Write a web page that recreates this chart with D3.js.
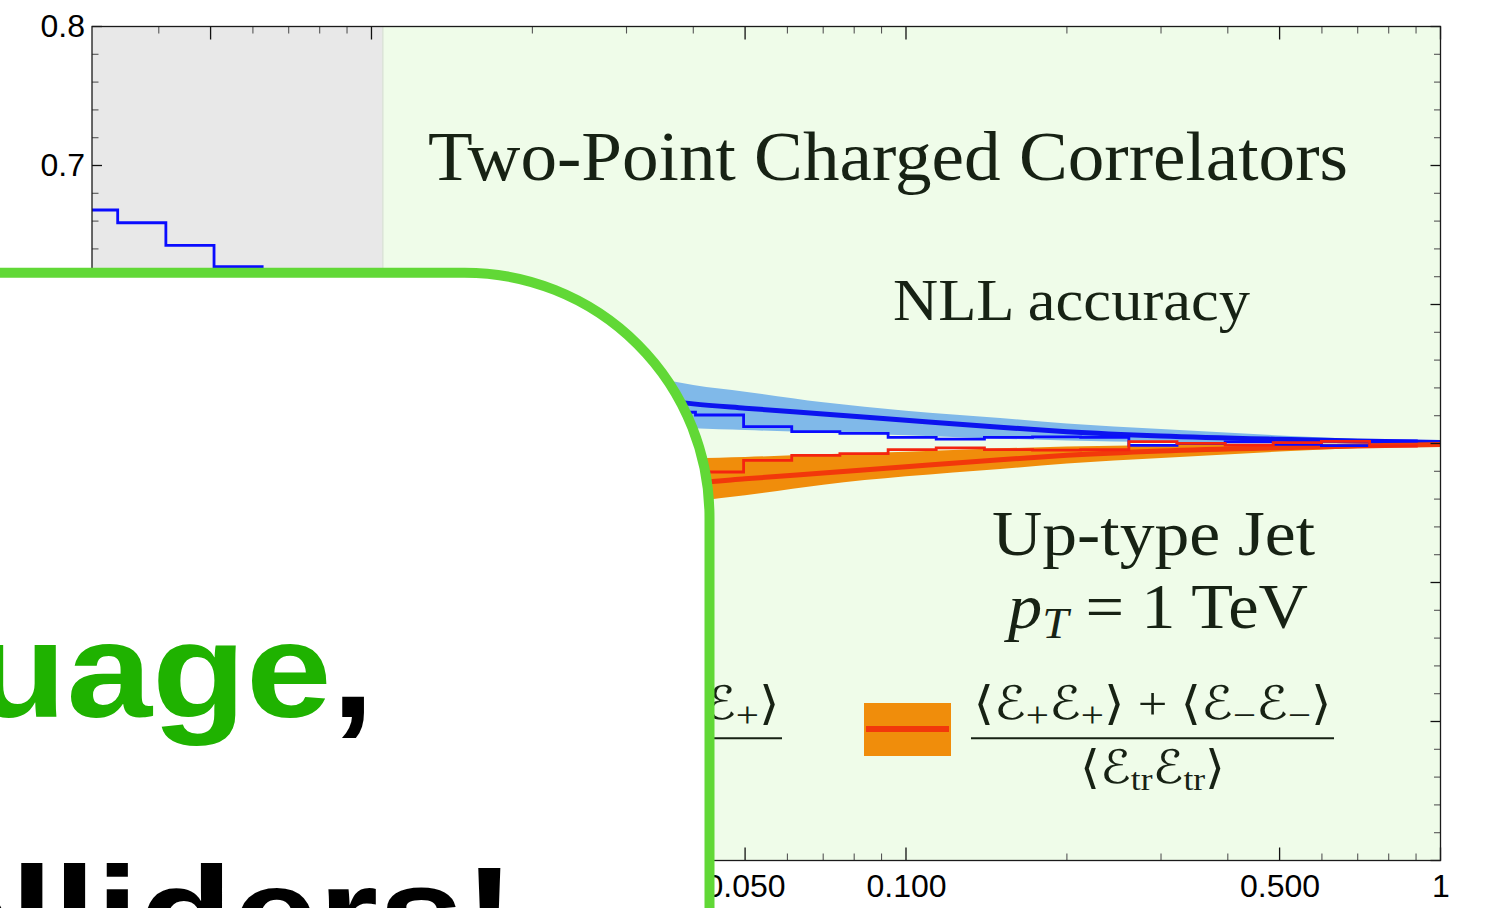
<!DOCTYPE html>
<html><head><meta charset="utf-8">
<script src="https://cdn.jsdelivr.net/npm/d3@7"></script>
<style>html,body{margin:0;padding:0;background:#fff;overflow:hidden}</style>
</head><body>
<svg id="chart" width="1486" height="908" xmlns="http://www.w3.org/2000/svg"></svg>
<script>
// ---------------- data ----------------
const xDomain = [0.003, 1];
const yDomain = [0.2, 0.8];
const nonPertEnd = 0.0105;
const xMajorTicks = [0.005, 0.01, 0.05, 0.1, 0.5, 1];
const xTickLabels = ["0.005", "0.010", "0.050", "0.100", "0.500", "1"];
const xMinorTicks = [0.004, 0.006, 0.007, 0.008, 0.009, 0.02, 0.03, 0.04, 0.06, 0.07, 0.08, 0.09, 0.2, 0.3, 0.4, 0.6, 0.7, 0.8, 0.9];
const yMajorTicks = [0.2, 0.3, 0.4, 0.5, 0.6, 0.7, 0.8];
const yTickLabels = ["0.2", "0.3", "0.4", "0.5", "0.6", "0.7", "0.8"];
const yMinorTicks = [0.22, 0.24, 0.26, 0.28, 0.32, 0.34, 0.36, 0.38, 0.42, 0.44, 0.46, 0.48, 0.52, 0.54, 0.56, 0.58, 0.62, 0.64, 0.66, 0.68, 0.72, 0.74, 0.76, 0.78];

// histogram (simulation) bin edges and values
const binEdges = [0.002723, 0.003351, 0.004124, 0.005075, 0.006244, 0.007684, 0.009454, 0.01163, 0.01432, 0.01761, 0.02167, 0.02667, 0.03281, 0.04038, 0.04968, 0.06113, 0.07522, 0.09259, 0.1139, 0.1402, 0.1725, 0.2122, 0.2612, 0.3214, 0.3954, 0.4865, 0.5987, 0.7367, 0.9066];
const blueHist = [0.668, 0.6588, 0.6426, 0.6272, 0.612, 0.598, 0.585, 0.573, 0.562, 0.552, 0.543, 0.535, 0.5225, 0.5205, 0.5121, 0.5085, 0.5073, 0.5044, 0.5032, 0.5044, 0.5048, 0.5045, 0.4987, 0.4999, 0.5011, 0.4994, 0.4985, 0.5018];
const redHist  = [0.332, 0.3412, 0.3574, 0.3728, 0.388, 0.402, 0.415, 0.427, 0.438, 0.448, 0.457, 0.465, 0.4775, 0.4795, 0.4879, 0.4915, 0.4927, 0.4956, 0.4968, 0.4956, 0.4952, 0.4955, 0.5013, 0.5001, 0.4989, 0.5006, 0.5015, 0.4982];

// NLL theory curves and bands
const thX       = [0.0105, 0.015, 0.02, 0.03, 0.04, 0.05, 0.07, 0.1, 0.15, 0.2, 0.3, 0.5, 0.7, 1];
const blueLine  = [0.565, 0.553, 0.545, 0.535, 0.5285, 0.5254, 0.5212, 0.5167, 0.5117, 0.5085, 0.5054, 0.5030, 0.5018, 0.5008];
const blueHi    = [0.595, 0.578, 0.567, 0.552, 0.542, 0.5373, 0.5296, 0.5236, 0.5183, 0.5144, 0.5104, 0.5058, 0.5032, 0.5008];
const blueLo    = [0.535, 0.526, 0.521, 0.515, 0.5109, 0.5097, 0.5078, 0.5059, 0.5035, 0.5022, 0.5010, 0.5003, 0.5001, 0.5000];
const redLine   = [0.435, 0.447, 0.455, 0.465, 0.4715, 0.4746, 0.4788, 0.4833, 0.4883, 0.4915, 0.4946, 0.4970, 0.4982, 0.4992];
const orangeLo  = [0.405, 0.422, 0.433, 0.448, 0.458, 0.4627, 0.4704, 0.4764, 0.4817, 0.4856, 0.4896, 0.4942, 0.4968, 0.4992];
const orangeHi  = [0.465, 0.474, 0.479, 0.485, 0.4891, 0.4903, 0.4922, 0.4941, 0.4965, 0.4978, 0.4990, 0.4997, 0.4999, 0.5000];

// ---------------- drawing ----------------
const svg = d3.select("#chart");
const x = d3.scaleLog().domain(xDomain).range([92, 1440.5]);
const y = d3.scaleLinear().domain(yDomain).range([860.5, 26.5]);
const X0 = x(xDomain[0]), X1 = x(xDomain[1]), Y0 = y(yDomain[0]), Y1 = y(yDomain[1]);

const defs = svg.append("defs");
defs.append("clipPath").attr("id", "plotclip").append("rect")
  .attr("x", X0).attr("y", Y1).attr("width", X1 - X0).attr("height", Y0 - Y1);

// background regions
svg.append("rect").attr("x", X0).attr("y", Y1).attr("width", x(nonPertEnd) - X0).attr("height", Y0 - Y1).attr("fill", "#e8e8e8");
svg.append("rect").attr("x", x(nonPertEnd)).attr("y", Y1).attr("width", X1 - x(nonPertEnd)).attr("height", Y0 - Y1).attr("fill", "#effce9");
svg.append("line").attr("x1", x(nonPertEnd)).attr("x2", x(nonPertEnd)).attr("y1", Y1).attr("y2", Y0)
  .attr("stroke", "#dbe3d8").attr("stroke-width", 1.5);

const plot = svg.append("g").attr("clip-path", "url(#plotclip)");

function band(lo, hi) {
  return d3.area().x((d, i) => x(thX[i])).y0((d, i) => y(lo[i])).y1((d, i) => y(hi[i])).curve(d3.curveMonotoneX)(thX);
}
function curve(vals) {
  return d3.line().x((d, i) => x(thX[i])).y((d, i) => y(vals[i])).curve(d3.curveMonotoneX)(thX);
}
function hist(vals) {
  const pts = vals.map((v, i) => [binEdges[i], v]);
  pts.push([binEdges[binEdges.length - 1], vals[vals.length - 1]]);
  return d3.line().x(d => x(d[0])).y(d => y(d[1])).curve(d3.curveStepAfter)(pts);
}

plot.append("path").attr("d", band(blueLo, blueHi)).attr("fill", "#80b9e9");
plot.append("path").attr("d", band(orangeLo, orangeHi)).attr("fill", "#f08d0b");
plot.append("path").attr("d", curve(blueLine)).attr("fill", "none").attr("stroke", "#0c14ef").attr("stroke-width", 5);
plot.append("path").attr("d", curve(redLine)).attr("fill", "none").attr("stroke", "#f2380b").attr("stroke-width", 5);
plot.append("path").attr("d", hist(blueHist)).attr("fill", "none").attr("stroke", "#0a0cff").attr("stroke-width", 2.8);
plot.append("path").attr("d", hist(redHist)).attr("fill", "none").attr("stroke", "#f42410").attr("stroke-width", 2.8);

// ticks on all four sides (inward)
const tk = svg.append("g");
function tick(x1, y1, x2, y2, major) {
  tk.append("line").attr("x1", x1).attr("y1", y1).attr("x2", x2).attr("y2", y2)
    .attr("stroke", major ? "#111" : "#555").attr("stroke-width", major ? 1.3 : 1.1);
}
xMajorTicks.forEach(v => { tick(x(v), Y0, x(v), Y0 - 13, true); tick(x(v), Y1, x(v), Y1 + 13, true); });
xMinorTicks.forEach(v => { tick(x(v), Y0, x(v), Y0 - 7, false); tick(x(v), Y1, x(v), Y1 + 7, false); });
yMajorTicks.forEach(v => { tick(X0, y(v), X0 + 10, y(v), true); tick(X1, y(v), X1 - 10, y(v), true); });
yMinorTicks.forEach(v => { tick(X0, y(v), X0 + 6.5, y(v), false); tick(X1, y(v), X1 - 6.5, y(v), false); });

// frame
svg.append("rect").attr("x", X0).attr("y", Y1).attr("width", X1 - X0).attr("height", Y0 - Y1)
  .attr("fill", "none").attr("stroke", "#1a1a1a").attr("stroke-width", 1.3);

// tick labels via d3 axes (ticks hidden, labels only)
const xAxis = d3.axisBottom(x).tickValues(xMajorTicks).tickFormat((d, i) => xTickLabels[i]).tickSize(0).tickPadding(14);
const gx = svg.append("g").attr("transform", `translate(0,${Y0})`).call(xAxis);
gx.select(".domain").remove();
gx.selectAll("text").attr("font-family", "Liberation Sans, Arial, sans-serif").attr("font-size", 32).attr("fill", "#000");

const yAxis = d3.axisLeft(y).tickValues(yMajorTicks).tickFormat((d, i) => yTickLabels[i]).tickSize(0).tickPadding(7);
const gy = svg.append("g").attr("transform", `translate(${X0},0)`).call(yAxis);
gy.select(".domain").remove();
gy.selectAll("text").attr("font-family", "Liberation Sans, Arial, sans-serif").attr("font-size", 32).attr("fill", "#000");

// annotations
const serif = "Liberation Serif, DejaVu Serif, serif";
const txtCol = "#172214";
function label(str, cx, by, size, len) {
  svg.append("text").attr("x", cx).attr("y", by).attr("text-anchor", "middle")
    .attr("font-family", serif).attr("font-size", size).attr("fill", txtCol)
    .attr("textLength", len).attr("lengthAdjust", "spacingAndGlyphs").text(str);
}
label("Two-Point Charged Correlators", 888, 180, 70, 920);
label("NLL accuracy", 1071.5, 320, 60, 357);
label("Up-type Jet", 1153.5, 555, 64, 323);

// p_T = 1 TeV
const pt = svg.append("text").attr("x", 1158).attr("y", 628).attr("text-anchor", "middle")
  .attr("font-family", serif).attr("font-size", 64).attr("fill", txtCol)
  .attr("textLength", 300).attr("lengthAdjust", "spacingAndGlyphs");
pt.append("tspan").attr("font-style", "italic").text("p");
pt.append("tspan").attr("font-style", "italic").attr("font-size", 44).attr("dy", 10).text("T");
pt.append("tspan").attr("dy", -10).text(" = 1 TeV");

// legends
const mathFont = "Liberation Serif, DejaVu Serif, DejaVu Sans, serif";
const legends = [
  { cx: 600.5, band: "#80b9e9", line: "#0c14ef", subs: ["+", "−", "−", "+"] },
  { cx: 1152.5, band: "#f08d0b", line: "#f2380b", subs: ["+", "+", "−", "−"] }
];
legends.forEach(L => {
  const left = L.cx - 181.5;
  svg.append("rect").attr("x", left - 107).attr("y", 703).attr("width", 87).attr("height", 53).attr("fill", L.band);
  svg.append("line").attr("x1", left - 105).attr("x2", left - 22).attr("y1", 729).attr("y2", 729)
    .attr("stroke", L.line).attr("stroke-width", 6);
  // numerator
  const num = svg.append("text").attr("x", L.cx).attr("y", 719).attr("text-anchor", "middle")
    .attr("font-family", mathFont).attr("font-size", 46).attr("fill", txtCol)
    .attr("textLength", 358).attr("lengthAdjust", "spacingAndGlyphs");
  num.append("tspan").text("⟨ℰ");
  num.append("tspan").attr("font-size", 36).attr("dy", 8).text(L.subs[0]);
  num.append("tspan").attr("dy", -8).text("ℰ");
  num.append("tspan").attr("font-size", 36).attr("dy", 8).text(L.subs[1]);
  num.append("tspan").attr("dy", -8).text("⟩ + ⟨ℰ");
  num.append("tspan").attr("font-size", 36).attr("dy", 8).text(L.subs[2]);
  num.append("tspan").attr("dy", -8).text("ℰ");
  num.append("tspan").attr("font-size", 36).attr("dy", 8).text(L.subs[3]);
  num.append("tspan").attr("dy", -8).text("⟩");
  // bar
  svg.append("line").attr("x1", left).attr("x2", left + 363).attr("y1", 738.3).attr("y2", 738.3)
    .attr("stroke", txtCol).attr("stroke-width", 2);
  // denominator
  const den = svg.append("text").attr("x", L.cx).attr("y", 783).attr("text-anchor", "middle")
    .attr("font-family", mathFont).attr("font-size", 46).attr("fill", txtCol)
    .attr("textLength", 145).attr("lengthAdjust", "spacingAndGlyphs");
  den.append("tspan").text("⟨ℰ");
  den.append("tspan").attr("font-size", 32).attr("dy", 7).text("tr");
  den.append("tspan").attr("dy", -7).text("ℰ");
  den.append("tspan").attr("font-size", 32).attr("dy", 7).text("tr");
  den.append("tspan").attr("dy", -7).text("⟩");
});

// overlay card
svg.append("rect").attr("x", -400).attr("y", 272.7).attr("width", 709.5 + 400).attr("height", 1000)
  .attr("rx", 245).attr("ry", 245).attr("fill", "#ffffff").attr("stroke", "#61d836").attr("stroke-width", 10);

const bold = "Liberation Sans, Arial, Helvetica, sans-serif";
const l1 = svg.append("g").attr("transform", "translate(-27.6,717) scale(1.14,1)")
  .append("text").attr("font-family", bold).attr("font-weight", "bold").attr("font-size", 135);
l1.append("tspan").attr("fill", "#1fb200").text("uage");
l1.append("tspan").attr("fill", "#000").text(",");
svg.append("g").attr("transform", "translate(-83.5,961) scale(1.14,1)")
  .append("text").attr("font-family", bold).attr("font-weight", "bold").attr("font-size", 135)
  .attr("fill", "#000").text("olliders!");
</script>
</body></html>
